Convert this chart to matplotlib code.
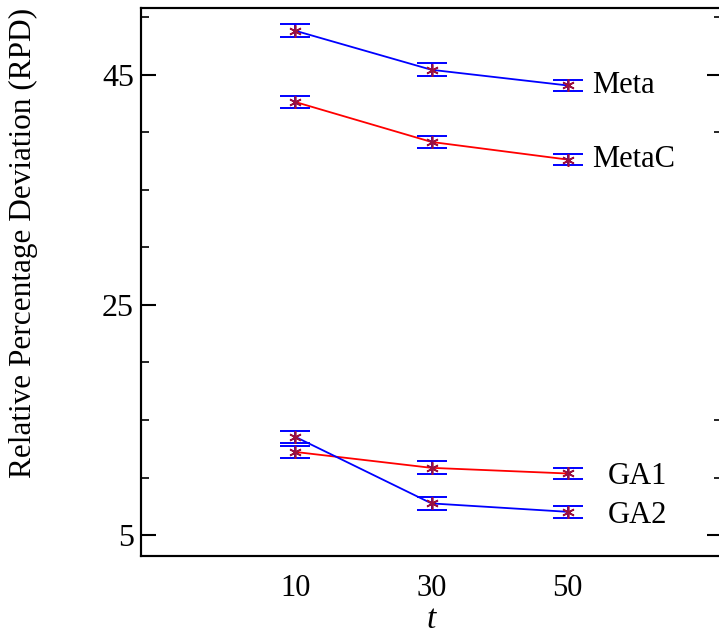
import numpy as np
import matplotlib
matplotlib.use('Agg')
import matplotlib.pyplot as plt
from matplotlib.ticker import FixedLocator

plt.rcParams['font.family'] = ['Liberation Serif', 'DejaVu Serif']

t = [10, 30, 50]

meta = [48.82, 45.43, 44.07]
meta_err = [0.56, 0.58, 0.50]
metac = [42.63, 39.16, 37.63]
metac_err = [0.50, 0.49, 0.50]
ga1 = [12.22, 10.84, 10.35]
ga1_err = [0.50, 0.56, 0.50]
ga2 = [13.53, 7.75, 7.02]
ga2_err = [0.55, 0.55, 0.50]

series = [
    ('Meta', meta, meta_err, 'blue', (18, 0)),
    ('MetaC', metac, metac_err, 'red', (18, 0)),
    ('GA1', ga1, ga1_err, 'red', (29, -2)),
    ('GA2', ga2, ga2_err, 'blue', (29, -3)),
]

right_major = [5, 45]
right_minor = [10, 15, 40, 50]

fig = plt.figure(figsize=(7.19, 6.37), dpi=100)
W, H = 719, 637
ax = fig.add_axes([141 / W, 1 - 556 / H, (722 - 141) / W, (556 - 8) / H])

for name, vals, err, col, off in series:
    ax.plot(t, vals, color=col, lw=1.3, zorder=2)
    ax.errorbar(t, vals, yerr=err, fmt='none', ecolor='blue', elinewidth=1.4,
                capsize=10.5, capthick=1.4, zorder=3)
    ax.plot(t, vals, ls='none', marker=(6, 2, 0), ms=9, mew=1.2,
            color='#9b1040', zorder=4)
    ax.annotate(name, (t[-1], vals[-1]), xytext=off, textcoords='offset points',
                fontsize=22, va='center', ha='left')

ax.set_xlim(-12.7, 72.7)
ax.set_ylim(3.18, 50.8)
ax.set_xticks(t)
ax.set_yticks([5, 25, 45])
ax.yaxis.set_minor_locator(FixedLocator([10, 15, 20, 30, 35, 40, 50]))
ax.tick_params(axis='x', length=0, labelsize=22, pad=13)
ax.tick_params(axis='y', which='major', direction='in', length=11, width=1.5,
               labelsize=23, right=False, pad=5)
ax.tick_params(axis='y', which='minor', direction='in', length=6, width=1.2,
               right=False)

ax2 = ax.twinx()
ax2.set_ylim(ax.get_ylim())
ax2.set_yticks(right_major)
ax2.yaxis.set_minor_locator(FixedLocator(right_minor))
ax2.tick_params(axis='y', which='major', direction='in', length=11, width=1.5,
                labelright=False)
ax2.tick_params(axis='y', which='minor', direction='in', length=6, width=1.2)

for a in (ax, ax2):
    for s in a.spines.values():
        s.set_linewidth(1.5)

ax.set_xlabel('t', fontsize=24, fontstyle='italic', labelpad=1)
ax.set_ylabel('Relative Percentage Deviation (RPD)', fontsize=22.5)
ax.yaxis.set_label_coords(-0.177, 0.571)

fig.savefig('out.png', dpi=100)
